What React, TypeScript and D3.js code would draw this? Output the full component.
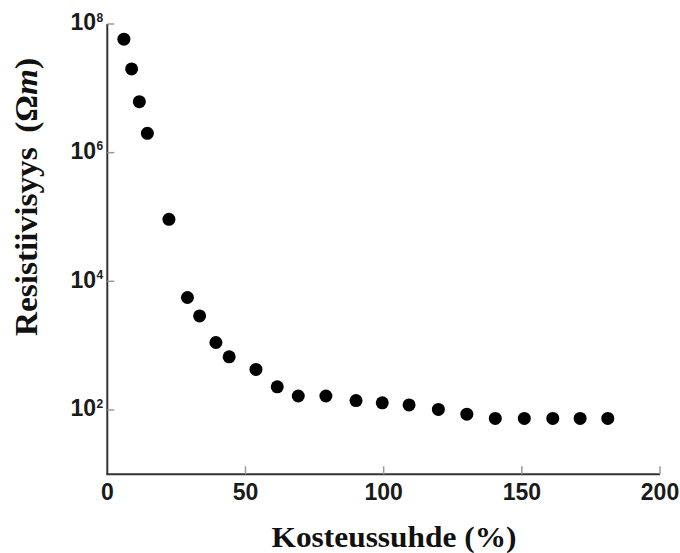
import React from 'react';
import * as d3 from 'd3';

// moisture ratio (%) vs resistivity (ohm m)
const moisture = [6.0, 8.8, 11.6, 14.5, 22.3, 29.0, 33.4, 39.3, 44.1, 53.8, 61.5, 69.1, 79.1, 90.0, 99.5, 109.2, 119.8, 130.1, 140.4, 150.9, 161.2, 171.1, 181.1];
const resistivity = [5.8e7, 2.0e7, 6.2e6, 2.0e6, 9.2e4, 5.6e3, 2.9e3, 1.12e3, 670, 427, 229, 165, 165, 140, 129, 120, 102, 86, 74, 74, 74, 74, 74];

const xTicks = [0, 50, 100, 150, 200];
const yTickExponents = [2, 4, 6, 8];

const xTitle = 'Kosteussuhde (%)';
const yTitle = 'Resistiivisyys';

const W = 680;
const H = 553;

export default function App() {
  const x = d3.scaleLinear().domain([0, 200]).range([107.3, 660]);
  const y = d3.scaleLog().domain([10, 1e8]).range([474.3, 24]);

  const axisColor = '#333';
  const tickColor = '#9a9a9a';
  const labelFont = '"Liberation Sans", Arial, sans-serif';
  const titleFont = '"Liberation Serif", "Times New Roman", serif';

  const points = moisture.map((m, i) => ({ m, r: resistivity[i] }));

  return (
    <svg
      width={W}
      height={H}
      style={{ position: 'absolute', left: 0, top: 0, background: '#fff' }}
    >
      {/* axis lines */}
      <line x1={x(0)} x2={x(0)} y1={y(1e8)} y2={y(10)} stroke={axisColor} strokeWidth={2} />
      <line x1={x(0) - 1} x2={x(200)} y1={y(10)} y2={y(10)} stroke={axisColor} strokeWidth={2} />

      {/* x ticks */}
      {xTicks.map(t => (
        <g key={'x' + t}>
          {t > 0 && (
            <line x1={x(t)} x2={x(t)} y1={y(10)} y2={y(10) - 8} stroke={tickColor} strokeWidth={1.5} />
          )}
          <text
            x={x(t)}
            y={500}
            textAnchor="middle"
            fontFamily={labelFont}
            fontWeight="bold"
            fontSize={23}
            fill="#1a1a1a"
          >
            {t}
          </text>
        </g>
      ))}

      {/* y ticks */}
      {yTickExponents.map(e => {
        const ty = y(Math.pow(10, e));
        return (
          <g key={'y' + e}>
            <line x1={x(0)} x2={x(0) + 7} y1={ty} y2={ty} stroke={tickColor} strokeWidth={1.5} />
            <text
              x={96}
              y={ty + 6.3}
              textAnchor="end"
              fontFamily={labelFont}
              fontWeight="bold"
              fontSize={23}
              fill="#1a1a1a"
            >
              10
            </text>
            <text
              x={96.5}
              y={ty - 2.4}
              fontFamily={labelFont}
              fontWeight="bold"
              fontSize={12}
              fill="#1a1a1a"
            >
              {e}
            </text>
          </g>
        );
      })}

      {/* points */}
      {points.map((d, i) => (
        <circle key={i} cx={x(d.m)} cy={y(d.r)} r={6.5} fill="#000" />
      ))}

      {/* x title */}
      <text
        x={394}
        y={547}
        textAnchor="middle"
        fontFamily={titleFont}
        fontWeight="bold"
        fontSize={29}
        textLength={245}
        lengthAdjust="spacingAndGlyphs"
        fill="#111"
      >
        {xTitle}
      </text>

      {/* y title */}
      <text
        transform="translate(37,197) rotate(-90)"
        textAnchor="middle"
        fontFamily={titleFont}
        fontWeight="bold"
        fontSize={32}
        textLength={278}
        lengthAdjust="spacingAndGlyphs"
        fill="#111"
      >
        {yTitle}
        <tspan dx={14}>(Ω</tspan>
        <tspan fontStyle="italic">m</tspan>
        <tspan>)</tspan>
      </text>
    </svg>
  );
}
